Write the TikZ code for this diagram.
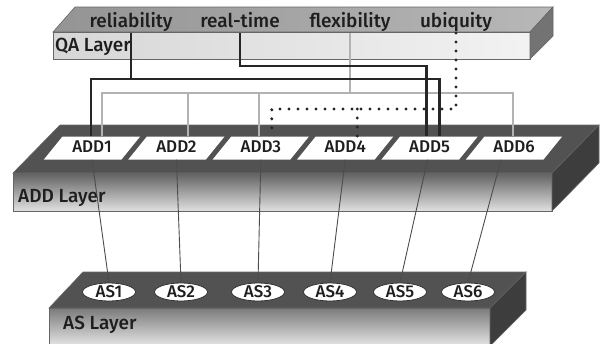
\documentclass[tikz,border=0pt]{standalone}
\usepackage{fontspec}
\setmainfont{Fira Sans Medium}
\usetikzlibrary{shapes.geometric}

\definecolor{ink}{HTML}{1E1E1E}

\begin{document}
\begin{tikzpicture}[
    x=1pt, y=-1pt,
    face/.style     = {draw=black!60, line width=0.6pt},
    laylabel/.style = {anchor=west, inner sep=0pt, text=ink,
                       font=\fontsize{19}{22}\selectfont},
    qalabel/.style  = {anchor=south, inner sep=1pt, text=ink,
                       text height=14pt, text depth=4pt,
                       font=\fontsize{19}{22}\selectfont},
    addnode/.style  = {trapezium, trapezium left angle=51,
                       trapezium right angle=129, fill=white,
                       text width=59pt, align=center, inner xsep=0pt,
                       inner ysep=4pt, text height=12pt, text depth=3pt,
                       text=ink, font=\fontsize{17}{19}\selectfont},
    asnode/.style   = {ellipse, draw=black!80, fill=white, line width=0.8pt,
                       minimum width=53pt, minimum height=18pt, inner sep=0pt,
                       text=ink, font=\fontsize{17}{19}\selectfont},
    strong/.style   = {draw=black!85, line width=2.6pt},
    weak/.style     = {draw=black!30, line width=1.6pt},
    dotlink/.style  = {draw=black!85, line width=3.4pt, line cap=round,
                       dash pattern=on 0pt off 9pt},
    link/.style     = {draw=black!70, line width=0.9pt}
]
\useasboundingbox (0,0) rectangle (605,343);

% QA slab
\shadedraw[face, left color=black!42, right color=black!28]
    (75,7) -- (553,7) -- (530,32) -- (53,32) -- cycle;
\shadedraw[face, left color=black!16, right color=black!5]
    (53,32) rectangle (530,59);
\filldraw[face, fill=black!55] (530,32) -- (553,7) -- (553,36) -- (530,59) -- cycle;
\node[laylabel] (qaname) at (55,47) {QA Layer};

% ADD slab
\filldraw[face, fill=black!68] (60,125) -- (599,125) -- (552,173) -- (13,173) -- cycle;
\shadedraw[face, top color=black!62, bottom color=black!12]
    (13,173) rectangle (552,211);
\filldraw[face, fill=black!76] (552,173) -- (599,125) -- (599,163) -- (552,211) -- cycle;
\node[laylabel] (addname) at (18,198) {ADD Layer};

% AS slab
\filldraw[face, fill=black!68] (83,272) -- (526,272) -- (490,308) -- (49,308) -- cycle;
\shadedraw[face, top color=black!52, bottom color=black!10]
    (49,308) rectangle (490,346);
\filldraw[face, fill=black!76] (490,308) -- (526,272) -- (526,310) -- (490,346) -- cycle;
\node[laylabel] (asname) at (63,325) {AS Layer};

% Quality attributes
\node[qalabel] (rel)  at (131,33) {reliability};
\node[qalabel] (rt)   at (240,33) {real-time};
\node[qalabel] (flex) at (350,33) {flexibility};
\node[qalabel] (ubi)  at (456,33) {ubiquity};

% Design decisions and services
\foreach \i [evaluate=\i as \x using {92+84.4*(\i-1)}] in {1,...,6}
    \node[addnode] (ADD\i) at (\x,148) {ADD\i};
\foreach \i/\x in {1/109, 2/181, 3/258, 4/330, 5/400, 6/468}
    \node[asnode] (AS\i) at (\x,292) {AS\i};

% Bus heights and drop points
\coordinate (rtbus)   at (0,66);
\coordinate (relbus)  at (0,79);
\coordinate (flexbus) at (0,93);
\coordinate (ubibus)  at (0,109);
\coordinate (r1) at ([xshift=-1pt]ADD1.north);
\coordinate (r5) at ([xshift=10pt]ADD5.north);
\coordinate (t5) at ([xshift=-3pt]ADD5.north);
\coordinate (f1) at ([xshift=10pt]ADD1.north);
\coordinate (f2) at ([xshift=11.6pt]ADD2.north);
\coordinate (f3) at ([xshift=-1.8pt]ADD3.north);
\coordinate (f6) at ([xshift=-1pt]ADD6.north);
\coordinate (u3) at ([xshift=11pt]ADD3.north);
\coordinate (u4) at ([xshift=12pt]ADD4.north);

% QA to ADD
\draw[weak] (flex.south) -- (flex.south |- flexbus);
\draw[weak] (f1) |- (f6 |- flexbus) -- (f6);
\foreach \f in {f2, f3}
    \draw[weak] (\f) -- (\f |- flexbus);
\draw[strong] (rt.south) |- (t5 |- rtbus) -- (t5);
\draw[strong] (rel.south) -- (rel.south |- relbus);
\draw[strong] (r1) |- (r5 |- relbus) -- (r5);
\draw[dotlink] (ubi.south) |- (u3 |- ubibus) -- (u3);
\draw[dotlink] (u4 |- ubibus) -- (u4);

% ADD to AS
\foreach \i/\dx in {1/0, 2/0, 3/0, 4/0, 5/-2, 6/-13}
    \draw[link] ([xshift=\dx pt]ADD\i.south) -- (AS\i.north);

\end{tikzpicture}
\end{document}
